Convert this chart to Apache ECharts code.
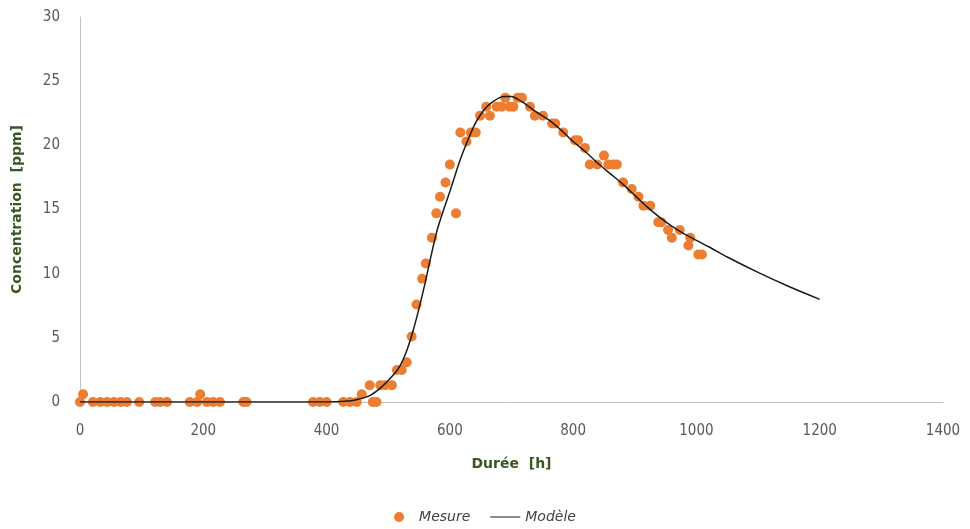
<!DOCTYPE html>
<html>
<head>
<meta charset="utf-8">
<script src="https://cdn.jsdelivr.net/npm/echarts@6/dist/echarts.min.js"></script>
<style>
html, body { margin: 0; padding: 0; background: #fff; }
#main { width: 970px; height: 529px; }
</style>
</head>
<body>
<div id="main"></div>
<script>
// mesures (durée en h, concentration en ppm)
var mesureH = [0, 5, 21, 33, 44, 55, 66, 76, 96, 122, 130, 141, 178, 190, 195, 206, 216, 227, 265, 270,
	378, 389, 400, 427, 438, 449, 457, 470, 475, 481, 487, 495, 506, 514, 522, 530, 538, 546, 555, 561,
	571, 578, 584, 593, 600, 610, 617, 627, 634, 642, 649, 659, 665, 676, 684, 690, 697, 703, 710, 717,
	730, 738, 751, 766, 771, 784, 803, 808, 819, 827, 839, 850, 857, 865, 871, 881, 895, 906, 914, 925,
	938, 943, 954, 960, 973, 987, 990, 1003, 1009];
var mesurePpm = [0, 0.6, 0, 0, 0, 0, 0, 0, 0, 0, 0, 0, 0, 0, 0.6, 0, 0, 0, 0, 0,
	0, 0, 0, 0, 0, 0, 0.6, 1.3, 0, 0, 1.3, 1.3, 1.3, 2.5, 2.5, 3.1, 5.1, 7.6, 9.6, 10.8,
	12.8, 14.7, 16.0, 17.1, 18.5, 14.7, 21.0, 20.3, 21.0, 21.0, 22.3, 23.0, 22.3, 23.0, 23.0, 23.7, 23.0, 23.0, 23.7, 23.7,
	23.0, 22.3, 22.3, 21.7, 21.7, 21.0, 20.4, 20.4, 19.8, 18.5, 18.5, 19.2, 18.5, 18.5, 18.5, 17.1, 16.6, 16.0, 15.3, 15.3,
	14.0, 14.0, 13.4, 12.8, 13.4, 12.2, 12.8, 11.5, 11.5];

// modèle
var modeleH = [0, 100, 200, 300, 400, 430, 450, 470, 490, 510, 520, 530, 540, 550, 560, 570, 580, 590, 600,
	610, 620, 630, 640, 650, 660, 670, 680, 690, 700, 710, 720, 740, 760, 780, 800, 820, 840, 860, 880,
	900, 920, 940, 960, 980, 1000, 1020, 1050, 1100, 1150, 1200];
var modelePpm = [0, 0, 0, 0, 0, 0.05, 0.2, 0.5, 1.2, 2.2, 2.9, 4.0, 5.5, 7.3, 9.3, 11.5, 13.5, 15.0, 16.4,
	17.9, 19.3, 20.5, 21.6, 22.4, 23.0, 23.4, 23.7, 23.8, 23.8, 23.6, 23.3, 22.6, 22.0, 21.2, 20.3, 19.5, 18.6, 17.8, 17.0,
	16.1, 15.2, 14.4, 13.7, 13.1, 12.6, 12.1, 11.3, 10.1, 9.0, 8.0];

var xTicks = [0, 200, 400, 600, 800, 1000, 1200, 1400];

function pairs(xs, ys) {
	var out = [];
	for (var i = 0; i < xs.length; i++) out.push([xs[i], ys[i]]);
	return out;
}

var myChart = echarts.init(document.getElementById('main'));

myChart.setOption({
	animation: false,
	grid: { left: 80, right: 27, top: 17, bottom: 127 },
	legend: {
		bottom: 0,
		left: 'center',
		itemGap: 20,
		itemWidth: 30,
		itemHeight: 10,
		textStyle: { fontFamily: 'DejaVu Sans', fontStyle: 'italic', fontSize: 14, color: '#404040' },
		data: [
			{ name: 'Mesure', icon: 'circle' },
			// trait fin : petits coins invisibles pour garder la boîte 30x10
			{ name: 'Modèle', icon: 'path://M0,0L0.01,0L0,0.01Z M30,10L29.99,10L30,9.99Z M0,4.4L30,4.4L30,5.6L0,5.6Z' }
		]
	},
	xAxis: {
		type: 'value',
		min: 0, max: 1400, interval: 200,
		name: 'Durée  [h]',
		nameLocation: 'middle',
		nameGap: 55,
		nameTextStyle: { fontFamily: 'DejaVu Sans', fontWeight: 'bold', fontSize: 14, color: '#375623' },
		axisLine: { show: true, lineStyle: { color: '#bfbfbf' } },
		axisTick: { show: false },
		splitLine: { show: false },
		axisLabel: {
			margin: 22, fontFamily: 'DejaVu Sans Condensed', fontSize: 15, color: '#595959',
			formatter: function (v) { return xTicks.indexOf(v) >= 0 ? String(v) : ''; }
		}
	},
	yAxis: {
		type: 'value',
		min: 0, max: 30, interval: 5,
		name: 'Concentration  [ppm]',
		nameLocation: 'middle',
		nameGap: 56,
		nameTextStyle: { fontFamily: 'DejaVu Sans', fontWeight: 'bold', fontSize: 14, color: '#375623' },
		axisLine: { show: true, lineStyle: { color: '#bfbfbf' } },
		axisTick: { show: false },
		splitLine: { show: false },
		axisLabel: { margin: 20, fontFamily: 'DejaVu Sans Condensed', fontSize: 15, color: '#595959' }
	},
	series: [
		{
			name: 'Mesure',
			type: 'scatter',
			symbolSize: 10,
			itemStyle: { color: '#ED7D31', opacity: 1 },
			data: pairs(mesureH, mesurePpm),
			z: 2
		},
		{
			name: 'Modèle',
			type: 'line',
			symbol: 'none',
			smooth: 0.3,
			lineStyle: { color: '#1a1a1a', width: 1.5 },
			itemStyle: { color: '#1a1a1a' },
			data: pairs(modeleH, modelePpm),
			z: 3
		}
	]
});
</script>
</body>
</html>
